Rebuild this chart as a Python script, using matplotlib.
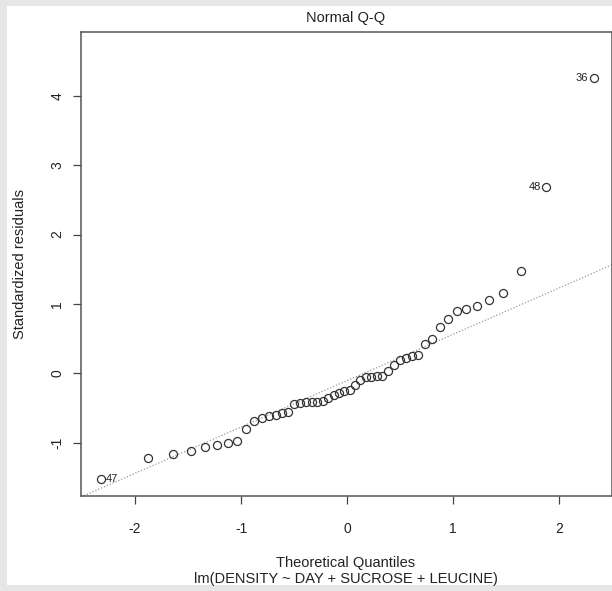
import numpy as np
import matplotlib
matplotlib.use("Agg")
import matplotlib.pyplot as plt
from matplotlib.patches import Rectangle

plt.rcParams['font.family'] = ['Liberation Sans', 'DejaVu Sans']

# theoretical quantiles, qnorm(ppoints(50))
theo = [-2.326, -1.881, -1.645, -1.476, -1.341, -1.227, -1.126, -1.036, -0.954, -0.878,
        -0.806, -0.739, -0.674, -0.613, -0.553, -0.496, -0.440, -0.385, -0.332, -0.279,
        -0.228, -0.176, -0.126, -0.075, -0.025, 0.025, 0.075, 0.126, 0.176, 0.228,
        0.279, 0.332, 0.385, 0.440, 0.496, 0.553, 0.613, 0.674, 0.739, 0.806,
        0.878, 0.954, 1.036, 1.126, 1.227, 1.341, 1.476, 1.645, 1.881, 2.326]

# standardized residuals (sorted)
resid = [-1.53, -1.22, -1.16, -1.12, -1.06, -1.04, -1.01, -0.98, -0.80, -0.69,
         -0.64, -0.61, -0.60, -0.58, -0.56, -0.45, -0.43, -0.42, -0.42, -0.41,
         -0.40, -0.36, -0.31, -0.29, -0.25, -0.24, -0.17, -0.10, -0.05, -0.05,
         -0.04, -0.04, 0.03, 0.12, 0.19, 0.22, 0.25, 0.27, 0.42, 0.49,
         0.66, 0.78, 0.90, 0.93, 0.97, 1.05, 1.16, 1.48, 2.69, 4.25]

# labelled observations: (index into sorted arrays, label)
labelled = [(0, "47"), (48, "48"), (49, "36")]

# qqline
line_icpt = -0.107
line_slope = 0.668

xticks = [-2, -1, 0, 1, 2]
yticks = [-1, 0, 1, 2, 3, 4]

W, H = 612, 591
fig = plt.figure(figsize=(W / 100, H / 100), dpi=100)
fig.patch.set_facecolor('#e6e6e6')
fig.patches.append(Rectangle((7 / W, 6 / H), (W - 7) / W, (H - 12) / H,
                             transform=fig.transFigure, facecolor='white',
                             edgecolor='none', zorder=-10))

def px(x, y):
    return x / W, 1 - y / H

left, right, top, bottom = 81, 612, 32, 496
ax = fig.add_axes([left / W, 1 - bottom / H, (right - left) / W, (bottom - top) / H])
ax.set_zorder(5)
ax.set_facecolor('white')

ax.set_xlim(-2.51, 2.50)
ax.set_ylim(-1.77, 4.92)

xs = np.array(ax.get_xlim())
ax.plot(xs, line_icpt + line_slope * xs, linestyle=(0, (1, 1.5)), color='#999999', lw=0.9)

ax.plot(theo, resid, linestyle='none', marker='o', markersize=5.8,
        markerfacecolor='none', markeredgecolor='#333333', markeredgewidth=0.9)

for i, lab in labelled:
    if i == 0:
        ax.annotate(lab, (theo[i], resid[i]), xytext=(4, 0), textcoords='offset points',
                    ha='left', va='center', fontsize=8, color='#222222')
    else:
        ax.annotate(lab, (theo[i], resid[i]), xytext=(-4, 0), textcoords='offset points',
                    ha='right', va='center', fontsize=8, color='#222222')

ax.set_xticks(xticks)
ax.set_xticklabels([str(t) for t in xticks])
ax.set_yticks(yticks)
ax.set_yticklabels([str(t) for t in yticks], rotation=90, va='center')
ax.tick_params(direction='out', length=6, width=0.9, color='#444444',
               labelsize=10, labelcolor='#222222')
ax.tick_params(axis='y', pad=6)
ax.tick_params(axis='x', pad=13)
for s in ax.spines.values():
    s.set_color('#555555')
    s.set_linewidth(1.1)

fig.text(*px(346, 18), "Normal Q-Q", ha='center', va='center', fontsize=10.5, color='#222222')
fig.text(*px(346, 563), "Theoretical Quantiles", ha='center', va='center', fontsize=10.5, color='#222222')
fig.text(*px(346, 579), "lm(DENSITY ~ DAY + SUCROSE + LEUCINE)", ha='center', va='center',
         fontsize=10.5, color='#222222')
fig.text(*px(20, 264), "Standardized residuals", ha='center', va='center', rotation=90,
         fontsize=10.5, color='#222222')

fig.savefig("out.png", dpi=100)
